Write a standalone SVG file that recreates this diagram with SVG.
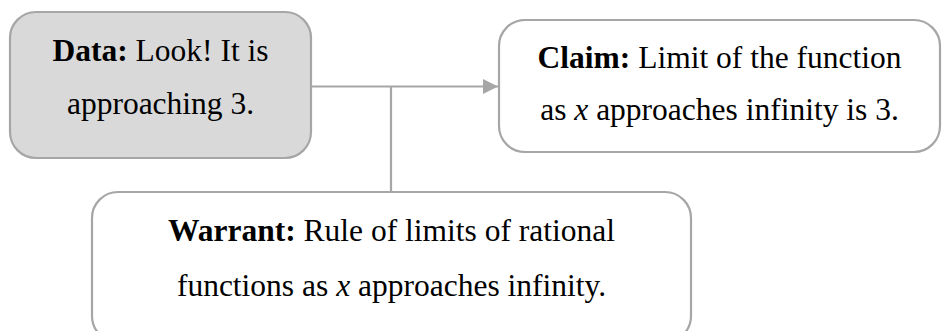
<svg xmlns="http://www.w3.org/2000/svg" width="942" height="331" viewBox="0 0 942 331">
  <style>
    .box { stroke: #a6a6a6; stroke-width: 2.2; }
    .plain { fill: #ffffff; }
    .shaded { fill: #d9d9d9; }
    .label { font-family: "Liberation Serif", "Times New Roman", serif; font-size: 31.5px; fill: #000000; text-anchor: middle; }
    .label .b { font-weight: bold; }
    .label .i { font-style: italic; }
    .link { stroke: #a6a6a6; stroke-width: 2.2; fill: none; }
  </style>
  <defs>
    <marker id="arrow" markerUnits="userSpaceOnUse" markerWidth="16" markerHeight="16" refX="15" refY="8" orient="auto">
      <path d="M0,0.5 L15,8 L0,15.5 Z" fill="#a6a6a6"/>
    </marker>
  </defs>
  <rect width="942" height="331" fill="#ffffff"/>

  <g id="connectors">
    <line class="link" x1="311" y1="86.5" x2="498" y2="86.5" marker-end="url(#arrow)"/>
    <line class="link" x1="391" y1="86.5" x2="391" y2="192"/>
  </g>

  <g id="data">
    <rect class="box shaded" x="10" y="12" width="301" height="146" rx="26" ry="26"/>
    <text class="label" x="160.5" y="61"><tspan class="b">Data:</tspan> Look! It is</text>
    <text class="label" x="160.5" y="114">approaching 3.</text>
  </g>

  <g id="claim">
    <rect class="box plain" x="499" y="20" width="441" height="132" rx="26" ry="26"/>
    <text class="label" x="719.5" y="68"><tspan class="b">Claim:</tspan> Limit of the function</text>
    <text class="label" x="719.5" y="120">as <tspan class="i">x</tspan> approaches infinity is 3.</text>
  </g>

  <g id="warrant">
    <rect class="box plain" x="92" y="192" width="599" height="150" rx="26" ry="26"/>
    <text class="label" x="391.5" y="241"><tspan class="b">Warrant:</tspan> Rule of limits of rational</text>
    <text class="label" x="391.5" y="296">functions as <tspan class="i">x</tspan> approaches infinity.</text>
  </g>
</svg>
